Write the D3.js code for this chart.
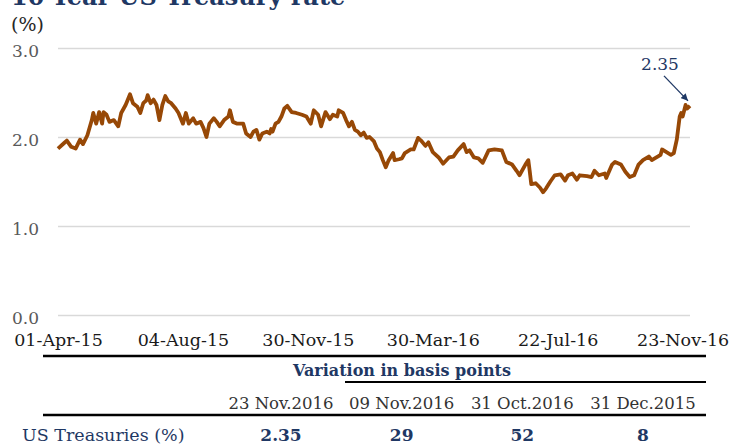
<!DOCTYPE html>
<html>
<head>
<meta charset="utf-8">
<script src="https://cdn.jsdelivr.net/npm/d3@7"></script>
<style>
  body { margin: 0; background: #fff; }
  svg { display: block; font-family: "DejaVu Serif", serif; }
</style>
</head>
<body>
<svg id="chart" width="736" height="444"></svg>
<script>
// trading day index (0 = 01-Apr-15) and 10y yield in %
var tradingDay = [0,4,6,9,12,15,17,20,23,24,26,28,30,31,33,35,38,41,43,46,47,49,51,54,56,58,60,61,63,65,67,69,71,73,75,77,80,82,85,87,89,92,94,97,99,101,103,106,108,110,113,116,117,119,122,124,126,128,131,133,135,137,139,142,144,145,146,148,150,152,154,156,159,162,166,169,172,174,177,179,182,185,187,190,191,194,196,198,200,202,204,206,208,210,212,215,217,219,221,223,225,228,229,232,234,236,240,242,245,247,250,252,255,259,262,266,269,272,276,278,280,283,286,289,293,297,302,305,309,312,314,318,320,321,322,325,328,330,332,335,338,342,345,347,350,353,355,360,363,365,368,372,373,377,379,383,386,389,392,395,398,402,404,406,410,411,414,417,419,421,423,424,425,427,428,430];
var rate = [1.87,1.93,1.96,1.89,1.87,1.97,1.92,2.02,2.19,2.27,2.15,2.28,2.15,2.28,2.25,2.17,2.19,2.12,2.27,2.36,2.40,2.48,2.38,2.34,2.27,2.38,2.41,2.47,2.38,2.42,2.36,2.19,2.36,2.46,2.40,2.38,2.32,2.27,2.15,2.27,2.15,2.21,2.15,2.17,2.10,2.00,2.15,2.21,2.17,2.12,2.19,2.23,2.30,2.17,2.15,2.15,2.15,2.04,2.00,2.06,2.08,1.97,2.04,2.06,2.04,2.09,2.06,2.15,2.17,2.23,2.32,2.35,2.28,2.27,2.25,2.23,2.15,2.30,2.25,2.12,2.28,2.20,2.25,2.23,2.30,2.27,2.19,2.12,2.17,2.08,2.06,2.02,2.05,1.99,2.00,1.95,1.87,1.83,1.74,1.66,1.74,1.82,1.74,1.75,1.76,1.82,1.86,1.86,1.99,1.96,1.90,1.94,1.83,1.77,1.70,1.77,1.78,1.85,1.92,1.83,1.85,1.77,1.76,1.71,1.85,1.86,1.85,1.72,1.69,1.62,1.57,1.69,1.74,1.61,1.47,1.48,1.43,1.38,1.42,1.50,1.57,1.58,1.51,1.57,1.59,1.52,1.57,1.56,1.55,1.62,1.57,1.59,1.54,1.69,1.72,1.69,1.61,1.55,1.57,1.69,1.74,1.78,1.74,1.76,1.80,1.86,1.83,1.80,1.82,1.97,2.23,2.27,2.23,2.36,2.32,2.35];

var tickDays = [0, 85, 170, 255, 340, 425];
var tickLabels = ["01-Apr-15", "04-Aug-15", "30-Nov-15", "30-Mar-16", "22-Jul-16", "23-Nov-16"];
var yTicks = [0, 1, 2, 3];

var tableHeaders = ["23 Nov.2016", "09 Nov.2016", "31 Oct.2016", "31 Dec.2015"];
var tableRowLabel = "US Treasuries (%)";
var tableValues = ["2.35", "29", "52", "8"];

var navy = "#1f3864";
var svg = d3.select("#chart");

var x = d3.scaleLinear().domain([0, 430]).range([58, 690]);
var y = d3.scaleLinear().domain([0, 3]).range([315, 48]);

// title (cut off by the top edge, as in the source)
svg.append("text")
  .attr("x", 11).attr("y", 5)
  .style("font-size", "24px").style("font-weight", "bold")
  .attr("fill", navy)
  .text("10-Year US Treasury rate");

svg.append("text")
  .attr("x", 11).attr("y", 31)
  .style("font-size", "19px")
  .attr("fill", "#262626")
  .text("(%)");

// gridlines + y labels
var yAxis = d3.axisLeft(y).tickValues(yTicks).tickSize(-(690 - 58)).tickFormat(d3.format(".1f"));
var gy = svg.append("g").attr("transform", "translate(58,0)").call(yAxis);
gy.select(".domain").remove();
gy.selectAll(".tick line").attr("stroke", "#d9d9d9").attr("stroke-width", 1.5);
gy.selectAll(".tick text")
  .attr("x", -19).attr("dy", "0.5em")
  .attr("fill", "#595959")
  .style("font-family", "DejaVu Serif").style("font-size", "17px");

// x labels
var xAxis = d3.axisBottom(x).tickValues(tickDays).tickSize(0)
  .tickFormat(function(d, i) { return tickLabels[i]; });
var gx = svg.append("g").attr("transform", "translate(0,315)").call(xAxis);
gx.select(".domain").remove();
gx.selectAll(".tick text")
  .attr("y", 31).attr("dy", 0)
  .attr("fill", "#1a1a1a")
  .style("font-family", "DejaVu Serif").style("font-size", "17.5px");

// the line
var pts = tradingDay.map(function(d, i) { return [d, rate[i]]; });
var line = d3.line()
  .x(function(d) { return x(d[0]); })
  .y(function(d) { return y(d[1]); });

svg.append("path")
  .datum(pts)
  .attr("d", line)
  .attr("fill", "none")
  .attr("stroke", "#974806")
  .attr("stroke-width", 3.8)
  .attr("stroke-linejoin", "round");

// annotation
var last = pts[pts.length - 1];
var tipX = x(last[0]) - 2, tipY = y(last[1]) - 5;
svg.append("defs").append("marker")
  .attr("id", "arrow")
  .attr("viewBox", "0 0 10 10")
  .attr("refX", 10).attr("refY", 5)
  .attr("markerWidth", 5.5).attr("markerHeight", 5.5)
  .attr("orient", "auto")
  .append("path").attr("d", "M0,0 L10,5 L0,10 z").attr("fill", navy);

svg.append("line")
  .attr("x1", tipX - 24).attr("y1", tipY - 25)
  .attr("x2", tipX).attr("y2", tipY)
  .attr("stroke", navy).attr("stroke-width", 1.3)
  .attr("marker-end", "url(#arrow)");

svg.append("text")
  .attr("x", tipX - 28).attr("y", 70)
  .attr("text-anchor", "middle")
  .style("font-size", "17px")
  .attr("fill", navy)
  .text(last[1].toFixed(2));

// table
var col = d3.scalePoint().domain(tableHeaders).range([281, 643]);
var table = svg.append("g");

table.append("line").attr("x1", 43).attr("x2", 706).attr("y1", 356).attr("y2", 356)
  .attr("stroke", "#000").attr("stroke-width", 2.5);

table.append("text")
  .attr("x", 402).attr("y", 376)
  .attr("text-anchor", "middle")
  .style("font-size", "16px").style("font-weight", "bold")
  .attr("fill", navy)
  .text("Variation in basis points");

table.append("line").attr("x1", 345).attr("x2", 706).attr("y1", 382).attr("y2", 382)
  .attr("stroke", "#000").attr("stroke-width", 2);

table.selectAll(".hdr")
  .data(tableHeaders)
  .enter().append("text")
  .attr("class", "hdr")
  .attr("x", function(d) { return col(d); })
  .attr("y", 409)
  .attr("text-anchor", "middle")
  .style("font-size", "16.5px")
  .attr("fill", "#333")
  .text(function(d) { return d; });

table.append("line").attr("x1", 43).attr("x2", 706).attr("y1", 415).attr("y2", 415)
  .attr("stroke", "#000").attr("stroke-width", 2.5);

table.append("text")
  .attr("x", 22).attr("y", 441)
  .style("font-size", "17.5px")
  .attr("fill", navy)
  .text(tableRowLabel);

table.selectAll(".val")
  .data(tableValues)
  .enter().append("text")
  .attr("class", "val")
  .attr("x", function(d, i) { return col(tableHeaders[i]); })
  .attr("y", 441)
  .attr("text-anchor", "middle")
  .style("font-size", "17px").style("font-weight", "bold")
  .attr("fill", navy)
  .text(function(d) { return d; });
</script>
</body>
</html>
